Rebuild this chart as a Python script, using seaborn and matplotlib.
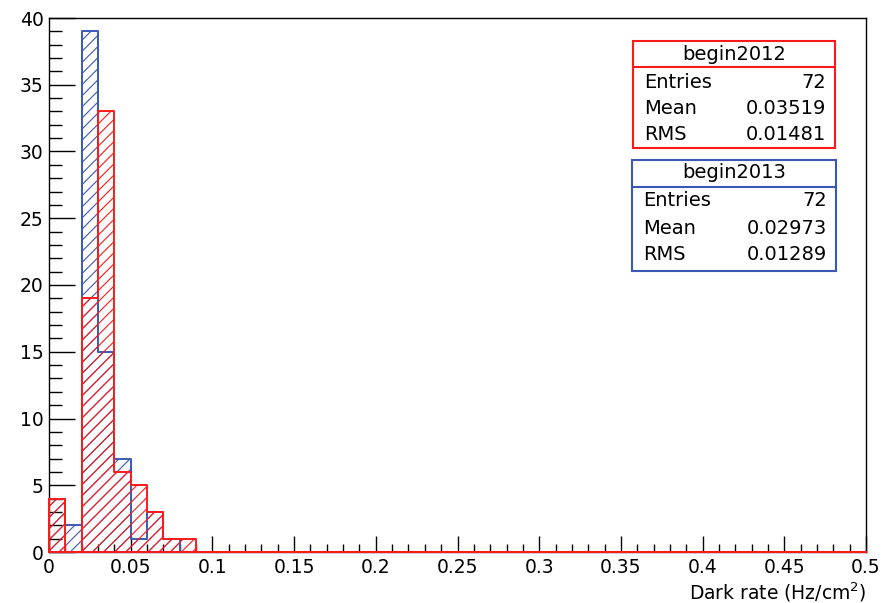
import numpy as np
import pandas as pd
import seaborn as sns
import matplotlib.pyplot as plt
from matplotlib.ticker import MultipleLocator
from matplotlib.patches import Rectangle
from matplotlib.lines import Line2D

# Histogram binning: 50 bins of 0.01 over [0, 0.5]
bin_edges = [round(0.01 * i, 4) for i in range(51)]
bin_centers = [round(0.5 * (a + b), 4) for a, b in zip(bin_edges[:-1], bin_edges[1:])]

# Entries per bin (only the first nine bins are populated)
counts_2012 = [4, 0, 19, 33, 6, 5, 3, 1, 1] + [0] * 41
counts_2013 = [4, 2, 39, 15, 7, 1, 3, 1, 0] + [0] * 41

# Statistics box contents
stats_2012 = {"name": "begin2012", "Entries": "72", "Mean": "0.03519", "RMS": "0.01481"}
stats_2013 = {"name": "begin2013", "Entries": "72", "Mean": "0.02973", "RMS": "0.01289"}

x_label = r"Dark rate (Hz/cm$^{2}$)"

RED = "#ff1a1a"
BLUE = "#3a58b4"

sns.set_theme(style="ticks")
plt.rcParams["font.family"] = ["DejaVu Sans"]
plt.rcParams["mathtext.fontset"] = "dejavusans"
plt.rcParams["hatch.linewidth"] = 0.8
plt.rcParams["text.color"] = "black"
plt.rcParams["xtick.labelcolor"] = "black"
plt.rcParams["ytick.labelcolor"] = "black"

df = pd.DataFrame({
    "x": bin_centers + bin_centers,
    "w": counts_2013 + counts_2012,
    "run": ["begin2013"] * len(bin_centers) + ["begin2012"] * len(bin_centers),
})

fig = plt.figure(figsize=(8.93, 6.03), dpi=100)
ax = fig.add_axes([49 / 893, 1 - 552 / 603, (866 - 49) / 893, (552 - 18) / 603])

for i, (run, col) in enumerate([("begin2013", BLUE), ("begin2012", RED)]):
    sub = df[df["run"] == run]
    sns.histplot(data=sub, x="x", weights="w", bins=bin_edges, element="step",
                 fill=True, color=col, facecolor="none", edgecolor=col, hatch="///",
                 linewidth=1.4, ax=ax)
    # draw the outline above the frame so the empty-bin baseline shows in colour
    ax.collections[-1].set_zorder(2.6 + 0.01 * i)
    ax.collections[-1].set_clip_on(False)

ax.set_xlim(0, 0.5)
ax.set_ylim(0, 40)
ax.set_ylabel("")
ax.set_xlabel("")

ax.xaxis.set_major_locator(MultipleLocator(0.05))
ax.xaxis.set_minor_locator(MultipleLocator(0.01))
ax.yaxis.set_major_locator(MultipleLocator(5))
ax.yaxis.set_minor_locator(MultipleLocator(1))


def xfmt(v, pos):
    return f"{v:.2f}".rstrip("0").rstrip(".")


ax.xaxis.set_major_formatter(plt.FuncFormatter(xfmt))
ax.tick_params(axis="x", which="major", direction="in", length=11.5, width=1.0,
               labelsize=13.5, pad=4, top=False, color="black")
ax.tick_params(axis="x", which="minor", direction="in", length=6, width=1.0,
               top=False, color="black")
ax.tick_params(axis="y", which="major", direction="in", length=18.5, width=1.0,
               labelsize=13.5, pad=4, right=False, color="black")
ax.tick_params(axis="y", which="minor", direction="in", length=9.5, width=1.0,
               right=False, color="black")
for s in ax.spines.values():
    s.set_visible(True)
    s.set_linewidth(1.0)
    s.set_color("black")

fig.text(866 / 893, 1 - 592 / 603, x_label, ha="right", va="center", fontsize=13.5)


def stats_box(stats, col, left, right, top, sep, bottom, rows_y, title_y):
    W, H = 893.0, 603.0
    fx = lambda px: px / W
    fy = lambda py: 1 - py / H
    fig.patches.append(Rectangle((fx(left), fy(bottom)), fx(right) - fx(left),
                                 fy(top) - fy(bottom), transform=fig.transFigure,
                                 facecolor="white", edgecolor=col, linewidth=1.5,
                                 zorder=5))
    fig.lines.append(Line2D([fx(left), fx(right)], [fy(sep), fy(sep)],
                            transform=fig.transFigure, color=col, linewidth=1.5,
                            zorder=6))
    fig.text(fx((left + right) / 2), fy(title_y), stats["name"], ha="center",
             va="center", fontsize=14, zorder=7)
    for key, y in zip(["Entries", "Mean", "RMS"], rows_y):
        fig.text(fx(left + 11), fy(y), key, ha="left", va="center", fontsize=14, zorder=7)
        fig.text(fx(right - 9), fy(y), stats[key], ha="right", va="center",
                 fontsize=14, zorder=7)


stats_box(stats_2012, RED, 633, 835, 41, 67, 148, [82, 109, 135], 54)
stats_box(stats_2013, BLUE, 632, 836, 160, 187, 271, [201, 228, 255], 173)

fig.savefig("out.png", dpi=100, facecolor="white")
